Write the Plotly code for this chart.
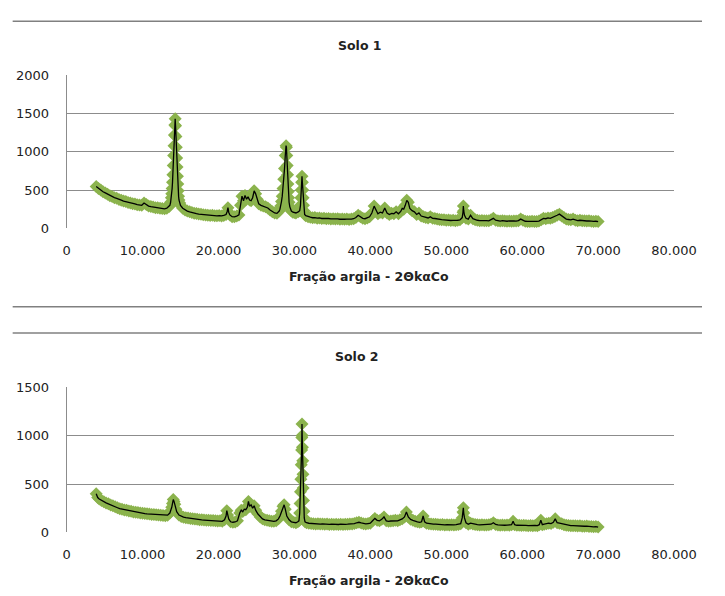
import plotly.graph_objects as go

# ---- data ----
two_theta_1 = [3.9, 4.2, 4.5, 4.8, 5.1, 5.4, 5.7, 6.0, 6.3, 6.6, 6.9, 7.2, 7.5, 7.8, 8.1, 8.4, 8.7, 9.0, 9.3, 9.6,
               9.9, 10.2, 10.5, 10.8, 11.1, 11.4, 11.7, 12.0, 12.3, 12.6, 12.9, 13.2, 13.5, 13.6, 13.7, 13.8, 13.85,
               13.9, 13.95, 14.0, 14.05, 14.1, 14.15, 14.2, 14.25, 14.3, 14.35, 14.4, 14.45, 14.5, 14.55, 14.6, 14.65,
               14.7, 14.75, 14.8, 14.9, 15.0, 15.3, 15.6, 15.9, 16.2, 16.5, 16.8, 17.1, 17.4, 17.7, 18.0, 18.3,
               18.6, 18.9, 19.2, 19.5, 19.8, 20.1, 20.4, 20.7, 21.0, 21.15, 21.25, 21.35, 21.5, 21.8, 22.1, 22.4,
               22.7, 22.9, 23.1, 23.3, 23.5, 23.7, 23.9, 24.1, 24.3, 24.5, 24.7, 24.9, 25.1, 25.3, 25.6, 25.9, 26.2,
               26.5, 26.8, 27.1, 27.4, 27.7, 28.0, 28.1, 28.2, 28.3, 28.4, 28.5, 28.6, 28.7, 28.8, 28.9, 28.95, 29.0,
               29.05, 29.1, 29.15, 29.2, 29.25, 29.3, 29.4, 29.5, 29.6, 29.8, 30.0, 30.2, 30.5, 30.7, 30.8, 30.85,
               30.9, 30.95, 31.0, 31.05, 31.1, 31.15, 31.2, 31.25, 31.35, 31.5, 31.8, 32.1, 32.4, 32.7, 33.0, 33.3,
               33.6, 33.9, 34.2, 34.5, 34.8, 35.1, 35.4, 35.7, 36.0, 36.3, 36.6, 36.9, 37.2, 37.5, 37.8, 38.1, 38.4,
               38.7, 39.0, 39.3, 39.6, 39.9, 40.2, 40.5, 40.8, 41.0, 41.3, 41.6, 41.9, 42.2, 42.5, 42.8, 43.1, 43.4,
               43.7, 44.0, 44.2, 44.4, 44.6, 44.8, 45.0, 45.2, 45.5, 45.8, 46.1, 46.4, 46.7, 47.0, 47.3, 47.6, 47.9,
               48.2, 48.5, 48.8, 49.1, 49.4, 49.7, 50.0, 50.3, 50.6, 50.9, 51.2, 51.5, 51.8, 52.1, 52.2, 52.25, 52.3,
               52.4, 52.6, 52.9, 53.2, 53.5, 53.8, 54.1, 54.4, 54.7, 55.0, 55.3, 55.6, 55.9, 56.2, 56.5, 56.8, 57.1,
               57.4, 57.7, 58.0, 58.3, 58.6, 58.9, 59.2, 59.5, 59.8, 60.1, 60.4, 60.7, 61.0, 61.3, 61.6, 61.9, 62.2,
               62.5, 62.8, 63.1, 63.4, 63.7, 64.0, 64.3, 64.6, 64.9, 65.2, 65.5, 65.8, 66.1, 66.4, 66.7, 67.0, 67.3,
               67.6, 67.9, 68.2, 68.5, 68.8, 69.1, 69.4, 69.7, 70.0]
counts_1 = [545, 520, 500, 478, 462, 445, 425, 415, 400, 392, 376, 368, 356, 350, 338, 332, 322, 318, 308, 305,
            300, 330, 310, 290, 284, 278, 270, 268, 262, 258, 255, 262, 285, 300, 340, 400, 450,
            520, 600, 700, 820, 950, 1080, 1220, 1350, 1430, 1340, 1200, 1060, 920, 800, 680, 580,
            490, 420, 370, 330, 300, 262, 240, 225, 215, 205, 198, 192, 186, 182, 178, 175,
            172, 168, 170, 165, 163, 166, 162, 168, 180, 220, 270, 210, 175, 152, 150, 160,
            175, 300, 420, 360, 430, 380, 410, 370, 360, 400, 490, 450, 380, 320, 300, 290, 280,
            265, 240, 215, 200, 195, 225, 250, 290, 350, 420, 520, 640, 780, 950, 1080, 1060, 950,
            820, 700, 580, 480, 400, 340, 280, 245, 225, 210, 205, 200, 215, 230, 300, 400,
            500, 600, 680, 600, 500, 400, 300, 230, 180, 165, 150, 145, 138, 140, 132, 135,
            128, 130, 125, 128, 122, 125, 120, 124, 118, 122, 118, 120, 116, 120, 125, 140, 170,
            150, 130, 125, 135, 150, 200, 290, 230, 190, 210, 200, 265, 200, 180, 195, 190, 215,
            190, 220, 260, 250, 300, 365, 340, 260, 230, 215, 180, 200, 160, 150, 140, 135, 150,
            130, 128, 120, 115, 112, 110, 105, 108, 102, 104, 100, 105, 110, 140, 210, 290, 230,
            170, 130, 120, 170, 125, 110, 105, 100, 102, 98, 100, 98, 110, 130, 105, 98, 95,
            100, 95, 92, 96, 92, 95, 94, 100, 120, 105, 92, 90, 88, 92, 88, 90, 95,
            110, 130, 125, 135, 130, 140, 155, 170, 185, 160, 140, 120, 115, 110, 120, 105, 100,
            105, 100, 98, 95, 98, 92, 90, 92, 88]

two_theta_2 = [3.9, 4.1, 4.3, 4.6, 4.9, 5.2, 5.5, 5.8, 6.1, 6.4, 6.7, 7.0, 7.3, 7.6, 7.9, 8.2, 8.5, 8.8, 9.1, 9.4,
               9.7, 10.0, 10.3, 10.6, 10.9, 11.2, 11.5, 11.8, 12.1, 12.4, 12.7, 13.0, 13.3, 13.6, 13.75, 13.85, 13.95,
               14.05, 14.15, 14.25, 14.4, 14.5, 14.8, 15.1, 15.4, 15.7, 16.0, 16.3, 16.6, 16.9, 17.2, 17.5, 17.8,
               18.1, 18.4, 18.7, 19.0, 19.3, 19.6, 19.9, 20.2, 20.5, 20.8, 21.0, 21.1, 21.2, 21.35, 21.6, 21.9, 22.2,
               22.5, 22.8, 23.0, 23.2, 23.4, 23.6, 23.8, 23.95, 24.1, 24.3, 24.5, 24.7, 24.9, 25.2, 25.5, 25.8, 26.1,
               26.4, 26.7, 27.0, 27.3, 27.6, 27.9, 28.1, 28.3, 28.5, 28.65, 28.8, 29.0, 29.3, 29.6, 29.9, 30.2, 30.45,
               30.6, 30.7, 30.75, 30.8, 30.85, 30.9, 30.95, 30.98, 31.0, 31.03, 31.06, 31.1, 31.13, 31.16, 31.2,
               31.25, 31.3, 31.4, 31.6, 31.9, 32.2, 32.5, 32.8, 33.1, 33.4, 33.7, 34.0, 34.3, 34.6, 34.9, 35.2, 35.5,
               35.8, 36.1, 36.4, 36.7, 37.0, 37.3, 37.6, 37.9, 38.2, 38.5, 38.8, 39.1, 39.4, 39.7, 40.0, 40.3, 40.6,
               40.9, 41.2, 41.5, 41.8, 42.1, 42.4, 42.7, 43.0, 43.3, 43.6, 43.9, 44.2, 44.5, 44.75, 45.0, 45.3, 45.6,
               45.9, 46.2, 46.5, 46.75, 46.95, 47.15, 47.4, 47.7, 48.0, 48.3, 48.6, 48.9, 49.2, 49.5, 49.8, 50.1,
               50.4, 50.7, 51.0, 51.3, 51.6, 51.9, 52.1, 52.2, 52.25, 52.3, 52.4, 52.6, 52.9, 53.2, 53.5, 53.8, 54.1,
               54.4, 54.7, 55.0, 55.3, 55.6, 55.9, 56.2, 56.5, 56.8, 57.1, 57.4, 57.7, 58.0, 58.3, 58.6, 58.8, 59.0,
               59.3, 59.6, 59.9, 60.2, 60.5, 60.8, 61.1, 61.4, 61.7, 62.0, 62.25, 62.45, 62.65, 62.9, 63.2, 63.5,
               63.8, 64.1, 64.35, 64.6, 64.9, 65.2, 65.5, 65.8, 66.1, 66.4, 66.7, 67.0, 67.3, 67.6, 67.9, 68.2,
               68.5, 68.8, 69.1, 69.4, 69.7, 70.0]
counts_2 = [400, 360, 345, 330, 318, 305, 295, 283, 275, 265, 255, 245, 240, 232, 228, 222, 218, 212, 208, 205,
            200, 198, 195, 192, 190, 186, 185, 182, 180, 178, 175, 173, 178, 200, 225, 260, 300,
            340, 320, 290, 240, 215, 180, 165, 158, 152, 148, 145, 140, 138, 135, 132, 130,
            128, 126, 125, 123, 122, 120, 118, 120, 115, 130, 170, 225, 180, 140, 110, 105, 108,
            120, 200, 230, 215, 240, 235, 260, 320, 270, 285, 250, 275, 230, 190, 160, 140, 130,
            125, 120, 115, 115, 120, 140, 170, 220, 270, 285, 240, 170, 130, 110, 105, 100, 110,
            120, 200, 300, 420, 550, 700, 850, 980, 1120, 1000, 880, 740, 600, 460, 330,
            220, 150, 110, 100, 95, 92, 90, 88, 90, 86, 88, 84, 86, 83, 85, 82, 84,
            82, 85, 82, 84, 85, 88, 86, 92, 100, 105, 98, 90, 88, 92, 95, 120, 145,
            125, 120, 135, 160, 120, 115, 118, 120, 125, 120, 130, 140, 160, 210, 160, 135, 125,
            115, 110, 105, 110, 170, 110, 95, 90, 88, 85, 85, 82, 80, 82, 78, 80,
            78, 80, 78, 80, 82, 90, 150, 210, 255, 200, 150, 100, 85, 95, 88, 82, 80,
            78, 80, 76, 78, 80, 85, 100, 82, 78, 75, 76, 74, 76, 75, 80, 115, 80,
            74, 75, 72, 74, 72, 70, 72, 70, 72, 70, 80, 125, 80, 85, 90, 95,
            92, 105, 140, 100, 95, 90, 80, 75, 72, 70, 70, 68, 66, 68, 65, 64,
            66, 62, 60, 58, 60, 55]

x_tick_values = [0, 10, 20, 30, 40, 50, 60, 70, 80]
x_tick_labels = ["0", "10.000", "20.000", "30.000", "40.000", "50.000", "60.000", "70.000", "80.000"]
chart_titles = ["Solo 1", "Solo 2"]
x_title = "Fração argila - 2ΘkαCo"

W, H = 725, 596
GREEN = "#8BB34D"
GRID = "#8C8C8C"
FONT = "DejaVu Sans"


def px_x(p):
    return p / W


def px_y(p):
    return 1 - p / H


fig = go.Figure()

series = [(two_theta_1, counts_1, "x", "y"), (two_theta_2, counts_2, "x2", "y2")]
for tx, cy, xa, ya in series:
    fig.add_trace(go.Scatter(x=tx, y=cy, mode="markers", xaxis=xa, yaxis=ya,
                             marker=dict(symbol="diamond", size=10, color=GREEN, line=dict(width=0)),
                             showlegend=False, hoverinfo="skip", cliponaxis=False))
    fig.add_trace(go.Scatter(x=tx, y=cy, mode="lines", xaxis=xa, yaxis=ya,
                             line=dict(color="black", width=1.3),
                             showlegend=False, cliponaxis=False))

xdom = [px_x(65), px_x(696)]
common_x = dict(range=[0, 80], tickvals=x_tick_values, ticktext=x_tick_labels, showgrid=False,
                zeroline=False, showline=False, ticks="", ticklabelstandoff=13,
                tickfont=dict(family=FONT, size=13, color="#222"))
common_y = dict(dtick=500, showgrid=True, gridcolor=GRID, gridwidth=1, zeroline=False,
                showline=True, linecolor=GRID, linewidth=1, ticks="", ticklabelstandoff=14,
                tickfont=dict(family=FONT, size=13, color="#222"))

fig.update_layout(
    width=W, height=H, margin=dict(l=0, r=0, t=0, b=0),
    paper_bgcolor="white", plot_bgcolor="white",
    xaxis=dict(domain=xdom, anchor="y", **common_x),
    yaxis=dict(domain=[px_y(227), px_y(70)], anchor="x", range=[0, 2000], **common_y),
    xaxis2=dict(domain=xdom, anchor="y2", **common_x),
    yaxis2=dict(domain=[px_y(539), px_y(390)], anchor="x2", range=[0, 1500], **common_y),
    shapes=[
        dict(type="line", xref="paper", yref="paper", x0=px_x(9), x1=1, y0=px_y(14.5), y1=px_y(14.5),
             line=dict(color="#808080", width=1.5)),
        dict(type="line", xref="paper", yref="paper", x0=px_x(9), x1=1, y0=px_y(307.5), y1=px_y(307.5),
             line=dict(color="#808080", width=1.5)),
        dict(type="line", xref="paper", yref="paper", x0=px_x(9), x1=1, y0=px_y(334.5), y1=px_y(334.5),
             line=dict(color="#808080", width=1.5)),
    ],
    annotations=[
        dict(text="<b>%s</b>" % chart_titles[0], x=px_x(370), y=px_y(39), xref="paper", yref="paper",
             showarrow=False, xanchor="center", yanchor="middle", font=dict(family=FONT, size=12.5, color="#222")),
        dict(text="<b>%s</b>" % x_title, x=px_x(379), y=px_y(276), xref="paper", yref="paper",
             showarrow=False, xanchor="center", yanchor="middle", font=dict(family=FONT, size=12.5, color="#222")),
        dict(text="<b>%s</b>" % chart_titles[1], x=px_x(367), y=px_y(359), xref="paper", yref="paper",
             showarrow=False, xanchor="center", yanchor="middle", font=dict(family=FONT, size=12.5, color="#222")),
        dict(text="<b>%s</b>" % x_title, x=px_x(379), y=px_y(588), xref="paper", yref="paper",
             showarrow=False, xanchor="center", yanchor="middle", font=dict(family=FONT, size=12.5, color="#222")),
    ],
)

fig.write_html("out.html", config={"displayModeBar": False},
               post_script="document.body.style.margin='0';document.body.style.overflow='hidden';")
